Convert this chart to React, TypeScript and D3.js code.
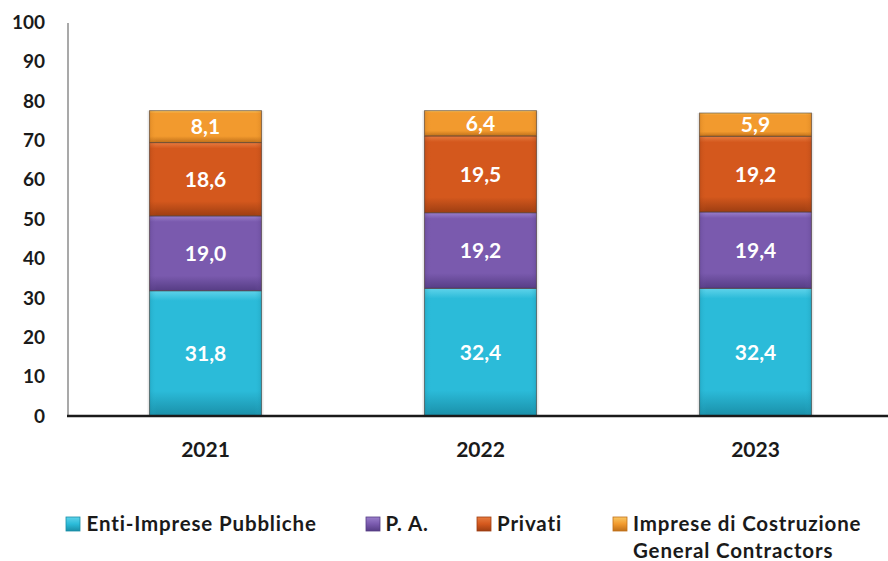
import React from "react";
import * as d3 from "d3";

const years = ["2021", "2022", "2023"];
const seriesNames = ["Enti-Imprese Pubbliche", "P. A.", "Privati", "Imprese di Costruzione General Contractors"];
const entiImprese = [31.8, 32.4, 32.4];
const pa = [19.0, 19.2, 19.4];
const privati = [18.6, 19.5, 19.2];
const impreseCostruzione = [8.1, 6.4, 5.9];
const yTicks = [0, 10, 20, 30, 40, 50, 60, 70, 80, 90, 100];

const colors = [
  { main: "#2bbbd9", light: "#5fd3ea", dark: "#1a8fa8" },
  { main: "#7a5aae", light: "#9a7fcb", dark: "#563d85" },
  { main: "#d4581d", light: "#e77c40", dark: "#9e3e12" },
  { main: "#f29a2e", light: "#f9c763", dark: "#c0701a" },
];

const W = 888, H = 561;
const FONT = "Lato, 'Open Sans', sans-serif";

export default function App() {
  const values = [entiImprese, pa, privati, impreseCostruzione];
  const x = d3.scaleBand().domain(years).range([68, 893]).paddingInner(0.593).paddingOuter(0.2965);
  const y = d3.scaleLinear().domain([0, 100]).range([416, 22]);
  const stackData = years.map((yr, i) => {
    const o: any = { year: yr };
    values.forEach((v, k) => (o["s" + k] = v[i]));
    return o;
  });
  const stack = d3.stack<any>().keys(values.map((_, k) => "s" + k))(stackData);
  const fmt = (v: number) => v.toFixed(1).replace(".", ",");

  const legend = [
    { x: 66, tx: 86.5 },
    { x: 366, tx: 385.5 },
    { x: 477, tx: 497 },
    { x: 613, tx: 633 },
  ];
  const legendStyle = { fontSize: 20.5, fontWeight: 700, fill: "#1a1a1a", letterSpacing: 0.85 } as any;

  return (
    <svg width={W} height={H} style={{ display: "block", position: "absolute", left: 0, top: 0 }} fontFamily={FONT}>
      <defs>
        {colors.map((c, k) => (
          <linearGradient key={k} id={"g" + k} x1="0" y1="0" x2="0" y2="1">
            <stop offset="0" stopColor={c.light} />
            <stop offset="0.08" stopColor={c.main} />
            <stop offset="0.8" stopColor={c.main} />
            <stop offset="1" stopColor={c.dark} />
          </linearGradient>
        ))}
        {colors.map((c, k) => (
          <linearGradient key={"h" + k} id={"h" + k} x1="0" y1="0" x2="1" y2="0">
            <stop offset="0" stopColor={c.dark} stopOpacity="0.35" />
            <stop offset="0.06" stopColor={c.main} stopOpacity="0" />
            <stop offset="0.94" stopColor={c.main} stopOpacity="0" />
            <stop offset="1" stopColor={c.dark} stopOpacity="0.35" />
          </linearGradient>
        ))}
        {colors.map((c, k) => (
          <linearGradient key={"m" + k} id={"m" + k} x1="0" y1="0" x2="0" y2="1">
            <stop offset="0" stopColor={c.light} />
            <stop offset="0.5" stopColor={c.main} />
            <stop offset="1" stopColor={c.dark} />
          </linearGradient>
        ))}
      </defs>
      <rect width={W} height={H} fill="#fff" />
      {/* y axis */}
      <line x1={68} x2={68} y1={y(100) + 1} y2={y(0)} stroke="#8c8c8c" strokeWidth={1.5} />
      {yTicks.map((t) => (
        <text key={t} x={45} y={y(t) + 6.8} textAnchor="end" fontSize={19} fontWeight={700} fill="#1a1a1a">
          {t}
        </text>
      ))}
      {/* bars */}
      {stack.map((layer, k) =>
        layer.map((d, i) => {
          const bx = x(years[i])!;
          const bw = x.bandwidth();
          const y0 = y(d[1]);
          const h = y(d[0]) - y(d[1]);
          return (
            <g key={k + "-" + i}>
              <rect x={bx - 2} y={y0} width={bw + 4} height={h} fill="#d9d9d9" opacity={0.6} />
              <rect x={bx} y={y0} width={bw} height={h} fill={`url(#g${k})`} />
              <rect x={bx} y={y0} width={bw} height={h} fill={`url(#h${k})`} />
              <rect x={bx} y={y0} width={bw} height={h} fill="none" stroke="#3a2a20" strokeOpacity={0.55} strokeWidth={1} />
            </g>
          );
        })
      )}
      {stack.map((layer, k) =>
        layer.map((d, i) => (
          <text
            key={"t" + k + "-" + i}
            x={x(years[i])! + x.bandwidth() / 2}
            y={(y(d[0]) + y(d[1])) / 2 + 7.8}
            textAnchor="middle"
            fontSize={21}
            fontWeight={700}
            fill="#fff"
          >
            {fmt(d.data["s" + k])}
          </text>
        ))
      )}
      {/* x axis */}
      <line x1={67} x2={888} y1={y(0)} y2={y(0)} stroke="#1a1a1a" strokeWidth={2.5} />
      {years.map((yr) => (
        <text key={yr} x={x(yr)! + x.bandwidth() / 2} y={456.5} textAnchor="middle" fontSize={21} fontWeight={700} fill="#1a1a1a">
          {yr}
        </text>
      ))}
      {/* legend */}
      {legend.map((l, k) => (
        <g key={"l" + k}>
          <rect x={l.x} y={517} width={14} height={14} fill={`url(#m${k})`} stroke={colors[k].dark} strokeWidth={0.8} />
          {k < 3 ? (
            <text x={l.tx} y={531} style={legendStyle}>
              {seriesNames[k]}
            </text>
          ) : (
            <>
              <text x={l.tx} y={531} style={legendStyle}>
                Imprese di Costruzione
              </text>
              <text x={l.tx} y={558} style={legendStyle}>
                General Contractors
              </text>
            </>
          )}
        </g>
      ))}
    </svg>
  );
}
